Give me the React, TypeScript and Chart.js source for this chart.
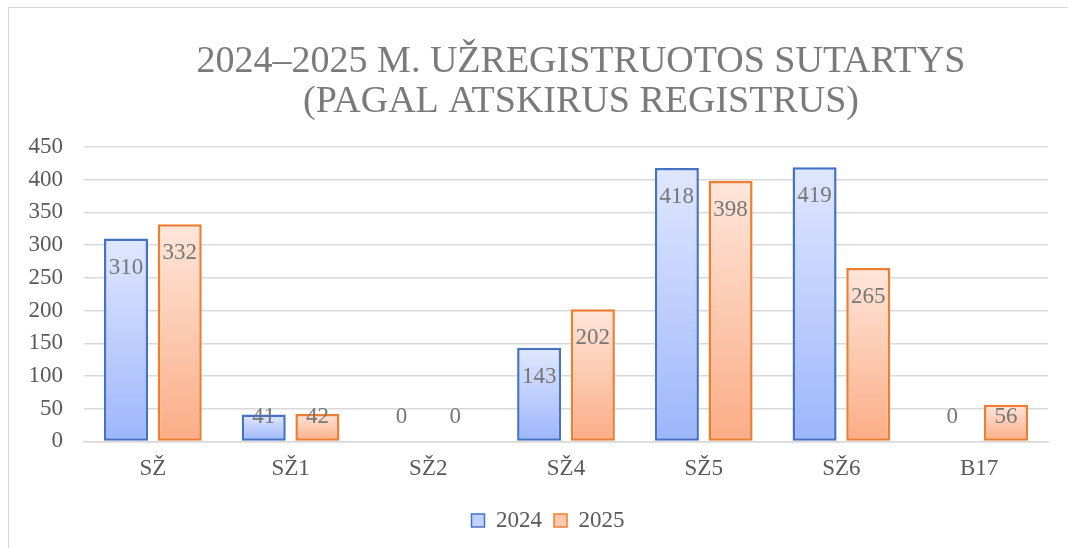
import React, { useEffect, useRef } from "react";
import { Chart, registerables } from "chart.js";

Chart.register(...registerables);

const categories = ["SŽ", "SŽ1", "SŽ2", "SŽ4", "SŽ5", "SŽ6", "B17"];
const values2024 = [310, 41, 0, 143, 418, 419, 0];
const values2025 = [332, 42, 0, 202, 398, 265, 56];
const seriesNames = ["2024", "2025"];
const yTicks = [0, 50, 100, 150, 200, 250, 300, 350, 400, 450];
const titleLines = ["2024–2025 M. UŽREGISTRUOTOS SUTARTYS", "(PAGAL ATSKIRUS REGISTRUS)"];

const FONT = "'Liberation Serif', 'Times New Roman', serif";
const TEXT = "#595959";
const LABEL = "#767676";

const palettes = [
  { top: "#e0e7ff", bottom: "#9db6fb", border: "#4472c4", mid: "#c3d1fd" },
  { top: "#fee6da", bottom: "#fbad86", border: "#ed7d31", mid: "#fcc9ae" },
];

function gradientFor(idx: number) {
  return (ctx: any) => {
    const chart = ctx.chart;
    const y = chart.scales?.y;
    if (!y || ctx.type !== "data") return palettes[idx].mid;
    const v = ctx.raw as number;
    const top = y.getPixelForValue(v);
    const base = y.getPixelForValue(0);
    if (!isFinite(top) || !isFinite(base) || Math.abs(base - top) < 1) return palettes[idx].mid;
    const g = chart.ctx.createLinearGradient(0, top, 0, base);
    g.addColorStop(0, palettes[idx].top);
    g.addColorStop(1, palettes[idx].bottom);
    return g;
  };
}

const titlePlugin = {
  id: "customTitle",
  afterLayout(chart: any) {
    if (chart.legend) {
      chart.legend.left += 14;
      chart.legend.right += 14;
    }
  },
  afterDraw(chart: any) {
    const c = chart.ctx;
    c.save();
    c.font = `38px ${FONT}`;
    c.fillStyle = "#7a7a7a";
    c.textAlign = "center";
    c.textBaseline = "alphabetic";
    c.fillText(titleLines[0], 581, 72);
    c.fillText(titleLines[1], 581, 112);
    c.restore();
  },
};

const labelPlugin = {
  id: "barLabels",
  afterDatasetsDraw(chart: any) {
    const c = chart.ctx;
    c.save();
    c.font = `23px ${FONT}`;
    c.fillStyle = LABEL;
    c.textAlign = "center";
    c.textBaseline = "alphabetic";
    chart.data.datasets.forEach((ds: any, di: number) => {
      const meta = chart.getDatasetMeta(di);
      meta.data.forEach((bar: any, i: number) => {
        const v = ds.data[i];
        const yb = Math.min(bar.y + 35, bar.base - 18);
        c.fillText(String(v), bar.x, yb);
      });
    });
    c.restore();
  },
};

export default function App() {
  const ref = useRef<HTMLCanvasElement | null>(null);
  useEffect(() => {
    if (!ref.current) return;
    const chart = new Chart(ref.current, {
      type: "bar",
      data: {
        labels: categories,
        datasets: [values2024, values2025].map((vals, idx) => ({
          label: seriesNames[idx],
          data: vals,
          backgroundColor: gradientFor(idx),
          borderColor: palettes[idx].border,
          borderWidth: 2.5,
          borderSkipped: false,
          categoryPercentage: 0.78,
          barPercentage: 0.82,
        })),
      },
      options: {
        animation: false,
        responsive: false,
        maintainAspectRatio: false,
        layout: { padding: { left: 20, right: 20, top: 147, bottom: 6 } },
        plugins: {
          title: { display: false },
          tooltip: { enabled: false },
          legend: {
            position: "bottom",
            labels: {
              font: { family: FONT, size: 23 },
              color: TEXT,
              boxWidth: 13,
              boxHeight: 13,
              padding: 12,
              generateLabels: () =>
                seriesNames.map((n, i) => ({
                  text: n,
                  fillStyle: palettes[i].mid,
                  strokeStyle: palettes[i].border,
                  lineWidth: 1.5,
                  datasetIndex: i,
                  fontColor: TEXT,
                })),
            },
          },
        },
        scales: {
          x: {
            grid: { display: false, drawTicks: false },
            border: { display: true, color: "#d9d9d9", width: 1.5 },
            ticks: { font: { family: FONT, size: 23 }, color: TEXT, padding: 14 },
          },
          y: {
            min: 0,
            max: 450,
            afterFit: (s: any) => {
              s.width = 64;
            },
            afterBuildTicks: (s: any) => {
              s.ticks = yTicks.map((v) => ({ value: v }));
            },
            grid: { color: "#d9d9d9", lineWidth: 1.5, drawTicks: false },
            border: { display: false },
            ticks: { font: { family: FONT, size: 23 }, color: TEXT, padding: 21 },
          },
        },
      },
      plugins: [titlePlugin, labelPlugin],
    });
    return () => chart.destroy();
  }, []);
  return (
    <div style={{ position: "fixed", left: 0, top: 0, width: 1068, height: 548, background: "#fff", overflow: "hidden" }}>
      <div
        style={{
          position: "absolute",
          left: 8,
          top: 7,
          width: 1120,
          height: 600,
          border: "1.5px solid #d9d9d9",
        }}
      />
      <canvas ref={ref} width={1068} height={548} style={{ position: "absolute", left: 0, top: 0 }} />
    </div>
  );
}
